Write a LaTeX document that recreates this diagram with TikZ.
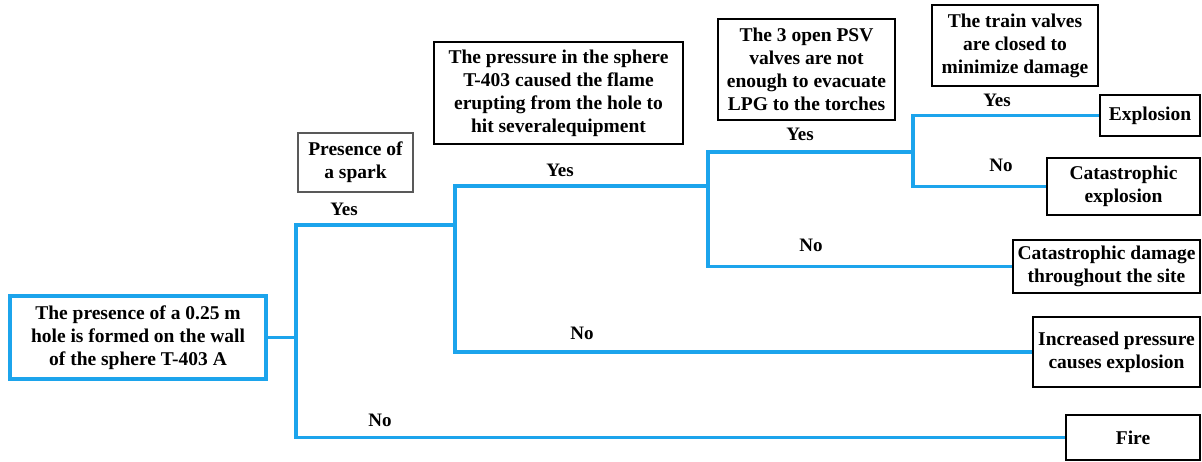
\documentclass[tikz,border=0pt]{standalone}
\usepackage{fontspec}
\setmainfont{Liberation Serif}
\usepackage{tikz}
\usetikzlibrary{positioning}
\definecolor{branchblue}{RGB}{28,164,236}

\begin{document}
\begin{tikzpicture}[
  x=1pt, y=-1pt,
  font=\fontsize{19.5}{23}\selectfont\bfseries,
  every node/.style={align=center},
  event/.style={draw, line width=2.8pt, fill=white, inner sep=2pt},
  init/.style={event, draw=branchblue, line width=3.2pt},
  cond/.style={event, draw=black!65},
  answer/.style={font=\fontsize{19}{22}\selectfont\bfseries, inner sep=1pt},
  branch/.style={draw=branchblue, line width=3.3pt},
]
  \useasboundingbox (0,0) rectangle (1202,461);

  % initiating event and questions
  \node[init, minimum width=256, minimum height=83] (root) at (138,337.5)
       {The presence of a 0.25 m\\hole is formed on the wall\\of the sphere T-403 A};
  \node[cond, minimum width=115, minimum height=59] (spark) at (355.5,162.5)
       {Presence of\\a spark};
  \node[event, minimum width=249, minimum height=102] (press) at (558.5,93)
       {The pressure in the sphere\\T-403 caused the flame\\erupting from the hole to\\hit severalequipment};
  \node[event, minimum width=177, minimum height=101] (psv) at (806.5,69.5)
       {The 3 open PSV\\valves are not\\enough to evacuate\\LPG to the torches};
  \node[event, minimum width=166, minimum height=81] (train) at (1015,45.5)
       {The train valves\\are closed to\\minimize damage};

  % outcomes
  \node[event, minimum width=100, minimum height=41] (expl) at (1150,115.5) {Explosion};
  \node[event, minimum width=153, minimum height=57] (cexp) at (1123.5,186.5) {Catastrophic\\explosion};
  \node[event, minimum width=187, minimum height=53] (cdmg) at (1106.5,266.5) {Catastrophic damage\\throughout the site};
  \node[event, minimum width=167, minimum height=70] (incr) at (1116.5,352) {Increased pressure\\causes explosion};
  \node[event, minimum width=134, minimum height=45] (fire) at (1133,437.5) {Fire};

  % junctions of the tree
  \coordinate (ja) at (296,337.5);
  \coordinate (jb) at (455,225);
  \coordinate (jc) at (708,186);
  \coordinate (jd) at (913,152);

  \draw[branch] (root.east) -- (ja);
  \draw[branch] (jb) -| (ja) |- (fire.west);
  \draw[branch] (jc) -| (jb) |- (incr.west);
  \draw[branch] (jd) -| (jc) |- (cdmg.west);
  \draw[branch] (expl.west) -| (jd) |- (cexp.west);

  % yes / no labels
  \node[answer] (y1) at (344,209) {Yes};
  \node[answer] (n1) at (380,420) {No};
  \node[answer] (y2) at (560,170) {Yes};
  \node[answer] (n2) at (582,333) {No};
  \node[answer] (y3) at (800,134) {Yes};
  \node[answer] (n3) at (811,245) {No};
  \node[answer] (y4) at (997,100) {Yes};
  \node[answer] (n4) at (1001,165) {No};
\end{tikzpicture}
\end{document}
